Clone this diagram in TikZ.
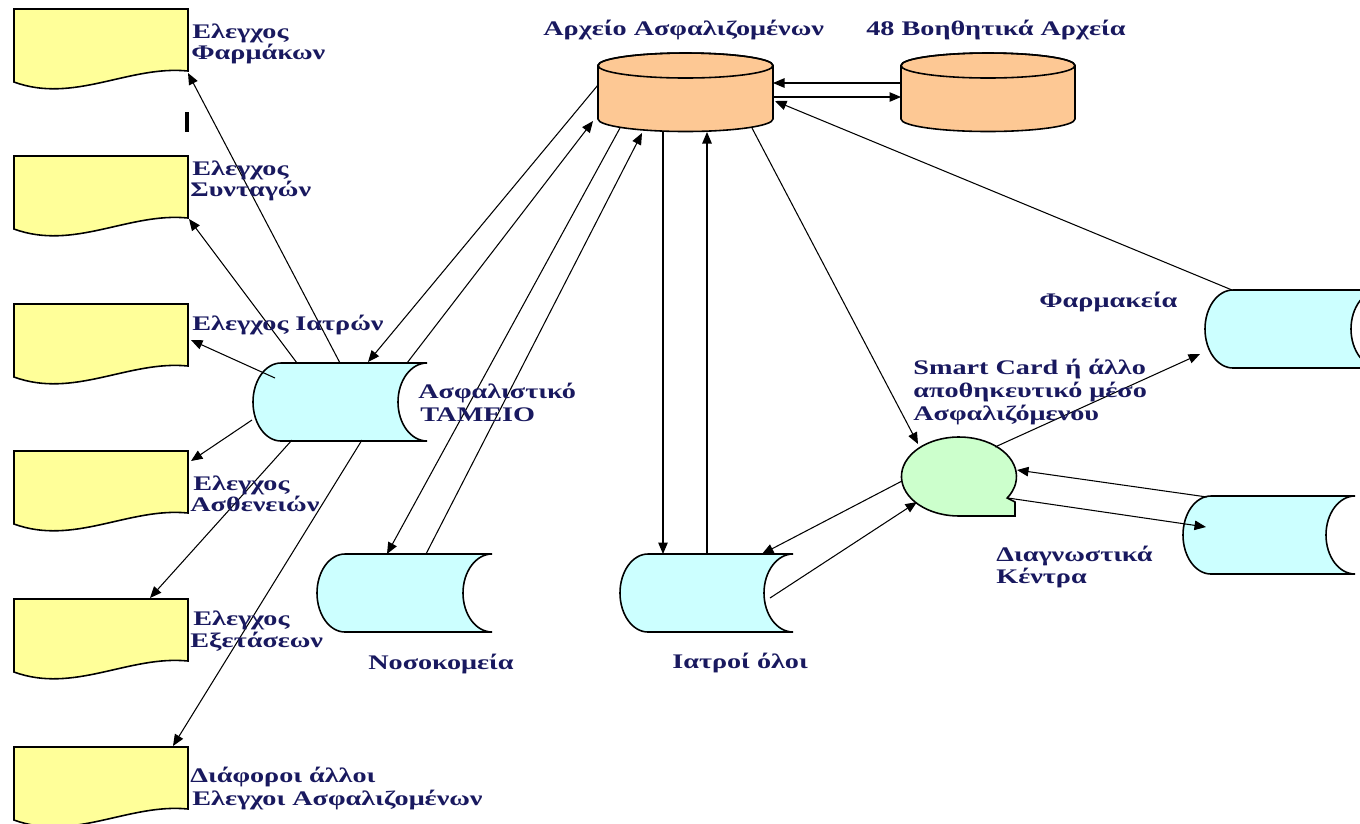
\documentclass[tikz,border=0pt]{standalone}
\usepackage{fontspec}
\setmainfont{Liberation Serif}
\newfontfamily\lblfont[FakeStretch=1.36]{Liberation Serif}
\usetikzlibrary{arrows.meta}
\definecolor{txtc}{RGB}{25,25,95}
\definecolor{yel}{RGB}{255,255,153}
\definecolor{ora}{RGB}{253,200,148}
\definecolor{cya}{RGB}{204,255,255}
\definecolor{grn}{RGB}{204,255,204}
\tikzset{
  lbl/.style={anchor=base west, inner sep=0pt, text=txtc,
    font=\lblfont\bfseries\fontsize{11.8pt}{13pt}\selectfont},
  conn/.style={line width=0.6pt, -{Triangle[length=0.23cm,width=0.19cm]}},
  docst/.style={draw=black, line width=0.9pt, fill=yel},
  orast/.style={draw=black, line width=0.9pt, fill=ora},
  cyast/.style={draw=black, line width=0.9pt, fill=cya},
  grnst/.style={draw=black, line width=0.9pt, fill=grn},
}
\newcommand\docshape[2]{%
  \begin{scope}[shift={(#1,#2)}]
    \draw[docst] (0,0) -- (174,0) -- (174,62) .. controls (115,56) and (60,95) .. (0,73) -- cycle;
  \end{scope}}
\newcommand\storedshape[3]{%
  \begin{scope}[shift={(#1,#2)}]
    \draw[cyast] (28,0) -- (#3,0) arc[start angle=270,end angle=90,x radius=29,y radius=39]
      -- (28,78) arc[start angle=90,end angle=270,x radius=28,y radius=39] -- cycle;
  \end{scope}}
\newcommand\cylshape[2]{%
  \begin{scope}[shift={(#1,65.5)}]
    \draw[orast] (0,0) -- (0,53.5) arc[start angle=180,end angle=0,x radius=#2/2,y radius=12.5]
      -- (#2,0) arc[start angle=0,end angle=-180,x radius=#2/2,y radius=12.5] -- cycle;
    \draw[line width=0.9pt] (#2/2,0) ellipse [x radius=#2/2,y radius=12.5];
  \end{scope}}
\begin{document}
\begin{tikzpicture}[x=0.02cm,y=-0.02cm]
\useasboundingbox (0,0) rectangle (1360,823);
\clip (0,0) rectangle (1360,823);
\fill[white] (0,0) rectangle (1360,823);

% document shapes
\docshape{14}{9}
\docshape{14}{156}
\docshape{14}{304}
\docshape{14}{451}
\docshape{14}{599}
\docshape{14}{747}

% cylinders
\cylshape{598}{175}
\cylshape{901}{174}

% stored data shapes
\storedshape{253}{363}{174}
\storedshape{317}{554}{175}
\storedshape{620}{554}{173}
\storedshape{1205}{290}{175}
\storedshape{1183}{496}{172}

% smart card (tape) shape
\draw[grnst] (959,516) -- (1015,516) -- (1015,502) -- (1007.2,498)
  arc[start angle=33,end angle=-270,x radius=57.5,y radius=39.5] -- cycle;

% stray bar
\coordinate (bar1) at (187,112);
\coordinate (bar2) at (187,132);
\draw[line width=0.08cm] (bar1) -- (bar2);

% connection points
\coordinate (a-l1) at (598,85);
\coordinate (a-l2) at (593,121);
\coordinate (a-b1) at (620,128);
\coordinate (a-b2) at (642,133);
\coordinate (a-b3) at (663,131);
\coordinate (a-b4) at (707,132);
\coordinate (a-b5) at (752,128);
\coordinate (a-r1) at (773,83);
\coordinate (a-r2) at (773,97);
\coordinate (a-r3) at (775,101);
\coordinate (b-l1) at (901,83);
\coordinate (b-l2) at (901,97);
\coordinate (t-t1) at (297,363);
\coordinate (t-t2) at (340,363);
\coordinate (t-t3) at (368,362);
\coordinate (t-t4) at (407,363);
\coordinate (t-w1) at (275,378);
\coordinate (t-w2) at (252,420);
\coordinate (t-s1) at (292,440);
\coordinate (t-s2) at (362,440);
\coordinate (d1) at (188,73);
\coordinate (d2) at (189,219);
\coordinate (d3) at (191,340);
\coordinate (d4) at (191,461);
\coordinate (d5) at (150,598);
\coordinate (d6) at (173,746);
\coordinate (n-t1) at (387,554);
\coordinate (n-t2) at (426,554);
\coordinate (i-t1) at (663,554);
\coordinate (i-t2) at (707,554);
\coordinate (i-t3) at (762,554);
\coordinate (i-r) at (770,598);
\coordinate (c-nw) at (918,444);
\coordinate (c-ne) at (995,447);
\coordinate (c-e) at (1017,470);
\coordinate (c-tail) at (1008,498);
\coordinate (c-w) at (902,481);
\coordinate (c-sw) at (917,502);
\coordinate (f-nw) at (1232,290);
\coordinate (f-w) at (1200,354);
\coordinate (g-nw) at (1207,497);
\coordinate (g-w) at (1206,527);

% connectors
\draw[conn] (a-l1) -- (t-t3);
\draw[conn] (t-t4) -- (a-l2);
\draw[conn] (a-b1) -- (n-t1);
\draw[conn] (n-t2) -- (a-b2);
\draw[conn] (a-b3) -- (i-t1);
\draw[conn] (i-t2) -- (a-b4);
\draw[conn] (a-b5) -- (c-nw);
\draw[conn] (b-l1) -- (a-r1);
\draw[conn] (a-r2) -- (b-l2);
\draw[conn] (f-nw) -- (a-r3);
\draw[conn] (c-ne) -- (f-w);
\draw[conn] (g-nw) -- (c-e);
\draw[conn] (c-tail) -- (g-w);
\draw[conn] (c-w) -- (i-t3);
\draw[conn] (i-r) -- (c-sw);
\draw[conn] (t-t2) -- (d1);
\draw[conn] (t-t1) -- (d2);
\draw[conn] (t-w1) -- (d3);
\draw[conn] (t-w2) -- (d4);
\draw[conn] (t-s1) -- (d5);
\draw[conn] (t-s2) -- (d6);

% labels
\node[lbl] (l1a) at (192,38) {Ελεγχος};
\node[lbl] (l1b) at (191,59) {Φαρμάκων};
\node[lbl] (l2a) at (192,175) {Ελεγχος};
\node[lbl] (l2b) at (190,196) {Συνταγών};
\node[lbl] (l3) at (192,330) {Ελεγχος Ιατρών};
\node[lbl] (l4a) at (193,490) {Ελεγχος};
\node[lbl] (l4b) at (190,511) {Ασθενειών};
\node[lbl] (l5a) at (193,625) {Ελεγχος};
\node[lbl] (l5b) at (190,647) {Εξετάσεων};
\node[lbl] (l6a) at (190,782) {Διάφοροι άλλοι};
\node[lbl] (l6b) at (192,805) {Ελεγχοι Ασφαλιζομένων};
\node[lbl] (ltop1) at (543,35) {Αρχείο Ασφαλιζομένων};
\node[lbl] (ltop2) at (866,35) {48 Βοηθητικά Αρχεία};
\node[lbl] (ltam1) at (418,398) {Ασφαλιστικό};
\node[lbl] (ltam2) at (420,421) {ΤΑΜΕΙΟ};
\node[lbl] (lnos) at (368,669) {Νοσοκομεία};
\node[lbl] (liat) at (672,668) {Ιατροί όλοι};
\node[lbl] (lfar) at (1039,307) {Φαρμακεία};
\node[lbl] (lsc1) at (913,374) {Smart Card ή άλλο};
\node[lbl] (lsc2) at (913,397) {αποθηκευτικό μέσο};
\node[lbl] (lsc3) at (913,420) {Ασφαλιζόμενου};
\node[lbl] (ldia1) at (996,561) {Διαγνωστικά};
\node[lbl] (ldia2) at (996,583) {Κέντρα};
\end{tikzpicture}
\end{document}
